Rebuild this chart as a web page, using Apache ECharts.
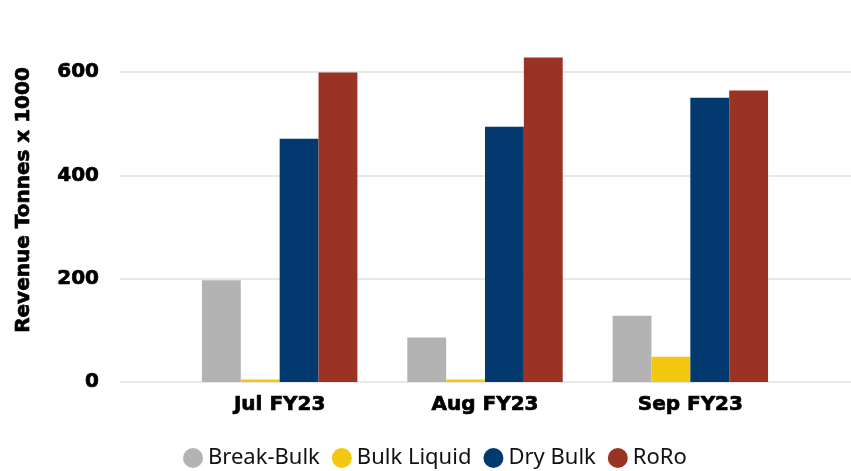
<!DOCTYPE html>
<html>
<head>
<meta charset="utf-8">
<script src="https://cdn.jsdelivr.net/npm/echarts@6/dist/echarts.min.js"></script>
<style>html,body{margin:0;padding:0;background:#fff}#c{width:851px;height:471px}</style>
</head>
<body>
<div id="c"></div>
<script>
var categories = ['Jul FY23', 'Aug FY23', 'Sep FY23'];
var breakBulk = [197, 86, 128];
var bulkLiquid = [5, 5, 49];
var dryBulk = [471, 494, 550];
var roRo = [599, 628, 564];
var seriesNames = ['Break-Bulk', 'Bulk Liquid', 'Dry Bulk', 'RoRo'];
var seriesColors = ['#b3b3b3', '#f2c811', '#023a6f', '#9a3324'];
var yTitle = 'Revenue Tonnes x 1000';

var chart = echarts.init(document.getElementById('c'));
var seriesData = [breakBulk, bulkLiquid, dryBulk, roRo];
var series = seriesData.map(function (d, i) {
  return {
    name: seriesNames[i], type: 'bar', data: d,
    xAxisIndex: 0, yAxisIndex: 0,
    barGap: '0%', barCategoryGap: '24.3%',
    clip: false,
    itemStyle: { color: seriesColors[i] }
  };
});
var boldFont = { fontFamily: 'DejaVu Sans', fontWeight: 'bold', fontSize: 20, color: '#000',
                 textBorderColor: '#000', textBorderWidth: 0.7 };
chart.setOption({
  animation: false,
  backgroundColor: '#fff',
  grid: [
    { left: 177, right: 58, top: 72, bottom: 89 },
    { left: 120, right: 0, top: 72, bottom: 89 }
  ],
  legend: {
    data: seriesNames,
    left: 178, top: 442,
    icon: 'circle', itemWidth: 20, itemHeight: 20, itemGap: 12,
    textStyle: { fontFamily: 'Noto Sans', fontSize: 22, color: '#111' }
  },
  xAxis: [
    { type: 'category', data: categories, gridIndex: 0,
      axisLine: { show: false }, axisTick: { show: false },
      axisLabel: Object.assign({ margin: 13 }, boldFont) },
    { type: 'value', gridIndex: 1, show: false, min: 0, max: 1 }
  ],
  yAxis: [
    { type: 'value', gridIndex: 0, min: 0, max: 600, interval: 200, show: false },
    { type: 'value', gridIndex: 1, min: 0, max: 600, interval: 200,
      axisLine: { show: false }, axisTick: { show: false },
      splitLine: { lineStyle: { color: '#e8e8e8', width: 2 } },
      axisLabel: Object.assign({ margin: 21 }, boldFont) }
  ],
  graphic: [{
    type: 'text', x: 24, y: 200, rotation: Math.PI / 2,
    style: { text: yTitle, font: 'bold 20px "DejaVu Sans"', fill: '#000',
             stroke: '#000', lineWidth: 0.7,
             textAlign: 'center', textVerticalAlign: 'middle' }
  }],
  series: series
});
</script>
</body>
</html>
